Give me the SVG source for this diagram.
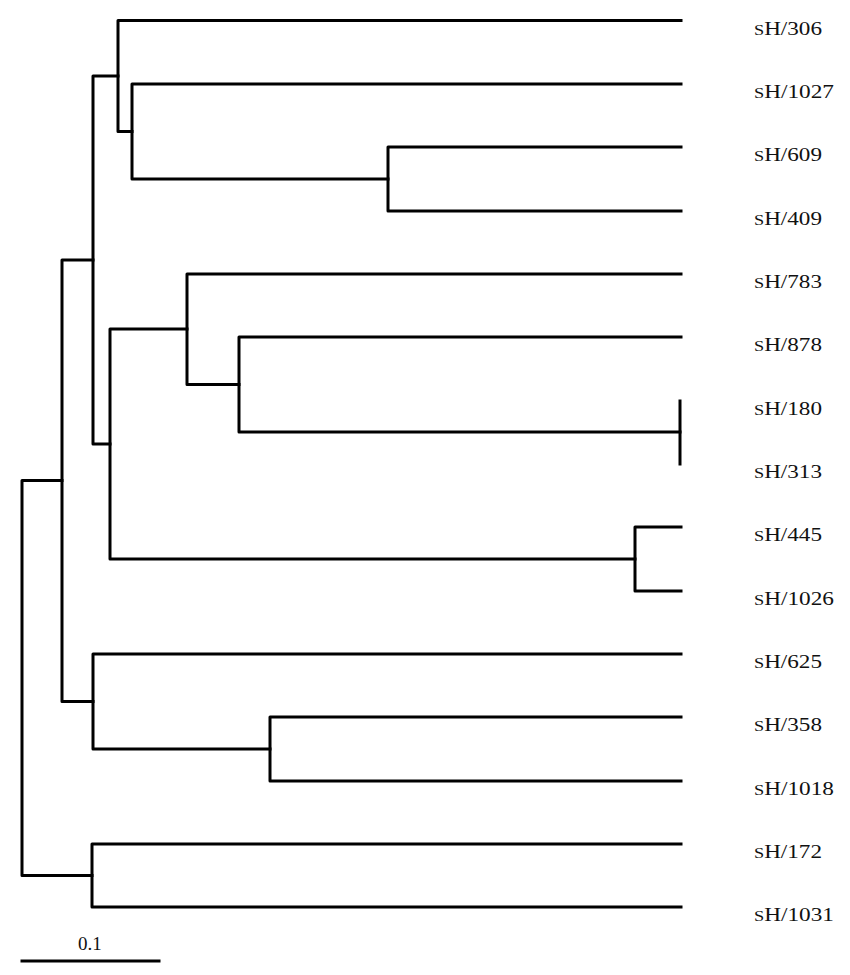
<svg xmlns="http://www.w3.org/2000/svg" width="850" height="975" viewBox="0 0 850 975">
<style>
.br{fill:none;stroke:#000;stroke-width:3;stroke-linejoin:round;stroke-linecap:square}
.lb{font-family:"Liberation Serif","Times New Roman",serif;font-size:19px;fill:#111}
.sc{font-size:15px}
</style>
<rect width="850" height="975" fill="#fff"/>
<g id="connectors">
<path class="br" d="M681,147 H388 V211 H681"/>
<path class="br" d="M681,84 H132 V179 H388"/>
<path class="br" d="M681,20.5 H118 V131.5 H132"/>
<path class="br" d="M680,401 V464"/>
<path class="br" d="M681,337 H239 V432 H680"/>
<path class="br" d="M681,274 H187 V384.5 H239"/>
<path class="br" d="M681,527 H635 V591 H681"/>
<path class="br" d="M187,329 H110 V559 H635"/>
<path class="br" d="M118,76 H93 V444 H110"/>
<path class="br" d="M681,717 H270 V781 H681"/>
<path class="br" d="M681,654 H93 V749 H270"/>
<path class="br" d="M93,260 H62 V701.5 H93"/>
<path class="br" d="M681,844 H92 V907 H681"/>
<path class="br" d="M62,480.5 H22 V875.5 H92"/>
</g>
<g id="leaf-306"><text class="lb" x="754" y="35" textLength="68" lengthAdjust="spacingAndGlyphs"><tspan class="sc">S</tspan>H/306</text></g>
<g id="leaf-1027"><text class="lb" x="754" y="98" textLength="80" lengthAdjust="spacingAndGlyphs"><tspan class="sc">S</tspan>H/1027</text></g>
<g id="leaf-609"><text class="lb" x="754" y="161" textLength="68" lengthAdjust="spacingAndGlyphs"><tspan class="sc">S</tspan>H/609</text></g>
<g id="leaf-409"><text class="lb" x="754" y="225" textLength="68" lengthAdjust="spacingAndGlyphs"><tspan class="sc">S</tspan>H/409</text></g>
<g id="leaf-783"><text class="lb" x="754" y="288" textLength="68" lengthAdjust="spacingAndGlyphs"><tspan class="sc">S</tspan>H/783</text></g>
<g id="leaf-878"><text class="lb" x="754" y="351" textLength="68" lengthAdjust="spacingAndGlyphs"><tspan class="sc">S</tspan>H/878</text></g>
<g id="leaf-180"><text class="lb" x="754" y="415" textLength="68" lengthAdjust="spacingAndGlyphs"><tspan class="sc">S</tspan>H/180</text></g>
<g id="leaf-313"><text class="lb" x="754" y="478" textLength="68" lengthAdjust="spacingAndGlyphs"><tspan class="sc">S</tspan>H/313</text></g>
<g id="leaf-445"><text class="lb" x="754" y="541" textLength="68" lengthAdjust="spacingAndGlyphs"><tspan class="sc">S</tspan>H/445</text></g>
<g id="leaf-1026"><text class="lb" x="754" y="605" textLength="80" lengthAdjust="spacingAndGlyphs"><tspan class="sc">S</tspan>H/1026</text></g>
<g id="leaf-625"><text class="lb" x="754" y="668" textLength="68" lengthAdjust="spacingAndGlyphs"><tspan class="sc">S</tspan>H/625</text></g>
<g id="leaf-358"><text class="lb" x="754" y="731" textLength="68" lengthAdjust="spacingAndGlyphs"><tspan class="sc">S</tspan>H/358</text></g>
<g id="leaf-1018"><text class="lb" x="754" y="795" textLength="80" lengthAdjust="spacingAndGlyphs"><tspan class="sc">S</tspan>H/1018</text></g>
<g id="leaf-172"><text class="lb" x="754" y="858" textLength="68" lengthAdjust="spacingAndGlyphs"><tspan class="sc">S</tspan>H/172</text></g>
<g id="leaf-1031"><text class="lb" x="754" y="921" textLength="80" lengthAdjust="spacingAndGlyphs"><tspan class="sc">S</tspan>H/1031</text></g>
<g id="scale-bar">
<line class="br" x1="22" y1="961" x2="159" y2="961"/>
<text class="lb" x="78" y="950">0.1</text>
</g>
</svg>
